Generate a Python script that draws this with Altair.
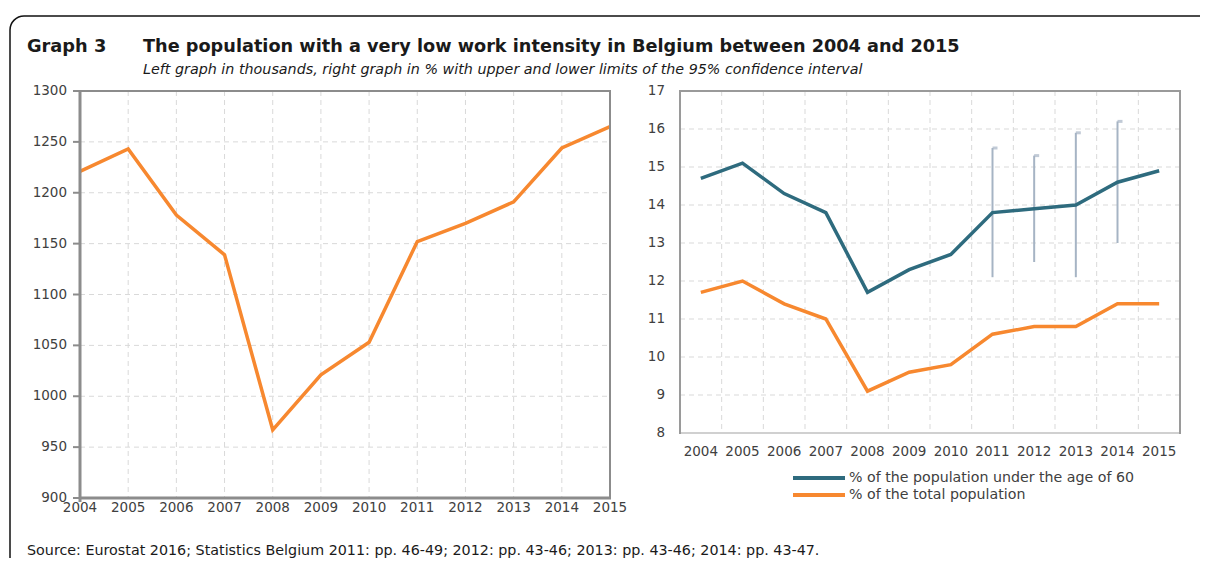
import altair as alt
import pandas as pd

FONT = "DejaVu Sans"
TXT = "#404040"

# ---------------- data ----------------
years = [2004, 2005, 2006, 2007, 2008, 2009, 2010, 2011, 2012, 2013, 2014, 2015]
left_thousands = [1221, 1243, 1178, 1139, 967, 1021, 1053, 1152, 1170, 1191, 1244, 1265]

series_names = ["% of the population under the age of 60", "% of the total population"]
series_colors = ["#2E6B7E", "#F7882F"]
pct_under60 = [14.7, 15.1, 14.3, 13.8, 11.7, 12.3, 12.7, 13.8, 13.9, 14.0, 14.6, 14.9]
pct_total = [11.7, 12.0, 11.4, 11.0, 9.1, 9.6, 9.8, 10.6, 10.8, 10.8, 11.4, 11.4]

ci_years = [2011, 2012, 2013, 2014]
ci_low = [12.1, 12.5, 12.1, 13.0]
ci_high = [15.5, 15.3, 15.9, 16.2]

left_y_ticks = [900, 950, 1000, 1050, 1100, 1150, 1200, 1250, 1300]
right_y_ticks = [8, 9, 10, 11, 12, 13, 14, 15, 16, 17]

label_graph = "Graph 3"
title_text = "The population with a very low work intensity in Belgium between 2004 and 2015"
subtitle_text = ("Left graph in thousands, right graph in % with upper and lower limits "
                 "of the 95% confidence interval")
source_text = ("Source: Eurostat 2016; Statistics Belgium 2011: pp. 46-49; 2012: pp. 43-46; "
               "2013: pp. 43-46; 2014: pp. 43-47.")

# ---------------- tables ----------------
ystr = [str(y) for y in years]
left_df = pd.DataFrame({"year": years, "value": left_thousands})
right_df = pd.DataFrame({
    "year": ystr + ystr,
    "series": [series_names[0]] * len(years) + [series_names[1]] * len(years),
    "value": pct_under60 + pct_total,
})
ci_df = pd.DataFrame({"year": [str(y) for y in ci_years], "low": ci_low, "high": ci_high})
legend_df = pd.DataFrame({"series": series_names})

# ---------------- geometry (plot-area pixels) ----------------
LW, LH = 530, 407                 # left panel
RX0, RX1, RH = 600, 1100, 342     # right panel

LXs = alt.Scale(domain=[2004, 2015], range=[0, LW], nice=False, zero=False)
LYs = alt.Scale(domain=[900, 1300], range=[LH, 0], nice=False, zero=False)
RXs = alt.Scale(type="band", domain=ystr, range=[RX0, RX1], paddingInner=0, paddingOuter=0)
RYs = alt.Scale(domain=[8, 17], range=[RH, 0], nice=False, zero=False)
COLs = alt.Scale(domain=series_names, range=series_colors)

GRID = "#d9d9d9"
BORDER = "#8c8c8c"
one = pd.DataFrame({"k": [0]})
TICKFS = 13.5

# ---------------- left panel ----------------
l_hgrid = alt.Chart(pd.DataFrame({"v": left_y_ticks[1:-1]})).mark_rule(
    color=GRID, strokeWidth=1, strokeDash=[5, 4]
).encode(y=alt.Y("v:Q", scale=LYs, axis=None), x=alt.value(0), x2=alt.value(LW))

l_vgrid = alt.Chart(pd.DataFrame({"yr": years[1:-1]})).mark_rule(
    color=GRID, strokeWidth=1, strokeDash=[5, 4]
).encode(x=alt.X("yr:Q", scale=LXs, axis=None), y=alt.value(0), y2=alt.value(LH))

l_box = alt.Chart(one).mark_rect(fill="transparent", stroke=BORDER, strokeWidth=2).encode(
    x=alt.value(0), x2=alt.value(LW), y=alt.value(0), y2=alt.value(LH))
l_left_edge = alt.Chart(one).mark_rule(color=BORDER, strokeWidth=3).encode(
    x=alt.value(0), y=alt.value(-1), y2=alt.value(LH + 4))
l_bottom_edge = alt.Chart(one).mark_rule(color=BORDER, strokeWidth=3).encode(
    x=alt.value(-1), x2=alt.value(LW + 1), y=alt.value(LH))

l_yticks = alt.Chart(pd.DataFrame({"v": left_y_ticks})).mark_rule(
    color=BORDER, strokeWidth=2
).encode(y=alt.Y("v:Q", scale=LYs, axis=None), x=alt.value(-7), x2=alt.value(0))
l_ylabels = alt.Chart(pd.DataFrame({"v": left_y_ticks})).mark_text(
    align="right", baseline="middle", font=FONT, fontSize=TICKFS, color=TXT
).encode(y=alt.Y("v:Q", scale=LYs, axis=None), x=alt.value(-13), text="v:Q")
l_xlabels = alt.Chart(pd.DataFrame({"yr": years})).mark_text(
    align="center", baseline="middle", font=FONT, fontSize=TICKFS, color=TXT
).encode(x=alt.X("yr:Q", scale=LXs, axis=None), y=alt.value(LH + 10), text="yr:N")

l_line = alt.Chart(left_df).mark_line(color="#F7882F", strokeWidth=3.5).encode(
    x=alt.X("year:Q", scale=LXs, axis=None),
    y=alt.Y("value:Q", scale=LYs, axis=None),
)

left = alt.layer(l_hgrid, l_vgrid, l_line, l_box, l_left_edge, l_bottom_edge,
                 l_yticks, l_ylabels, l_xlabels)

# ---------------- right panel ----------------
r_hgrid = alt.Chart(pd.DataFrame({"v": right_y_ticks[1:-1]})).mark_rule(
    color=GRID, strokeWidth=1, strokeDash=[5, 4]
).encode(y=alt.Y("v:Q", scale=RYs, axis=None), x=alt.value(RX0), x2=alt.value(RX1))

r_vgrid = alt.Chart(pd.DataFrame({"yr": ystr[1:]})).mark_rule(
    color=GRID, strokeWidth=1, strokeDash=[5, 4]
).encode(x=alt.X("yr:O", scale=RXs, bandPosition=0, axis=None),
         y=alt.value(0), y2=alt.value(RH))

r_box = alt.Chart(one).mark_rect(fill="transparent", stroke="#9a9a9a", strokeWidth=2).encode(
    x=alt.value(RX0), x2=alt.value(RX1), y=alt.value(0), y2=alt.value(RH))
r_bottom = alt.Chart(one).mark_rule(color="#d0d0d0", strokeWidth=2).encode(
    x=alt.value(RX0 + 1), x2=alt.value(RX1 - 1), y=alt.value(RH))

r_err = alt.Chart(ci_df).mark_rule(color="#A6B4C4", strokeWidth=2).encode(
    x=alt.X("year:O", scale=RXs, axis=None),
    y=alt.Y("low:Q", scale=RYs, axis=None), y2="high:Q")
r_cap = alt.Chart(ci_df).mark_tick(color="#A6B4C4", size=5, thickness=3, xOffset=2.5).encode(
    x=alt.X("year:O", scale=RXs, axis=None),
    y=alt.Y("high:Q", scale=RYs, axis=None))

r_lines = alt.Chart(right_df).mark_line(strokeWidth=3.5).encode(
    x=alt.X("year:O", scale=RXs, axis=None),
    y=alt.Y("value:Q", scale=RYs, axis=None),
    color=alt.Color("series:N", scale=COLs, legend=None),
    order=alt.Order("year:O"),
)

r_ylabels = alt.Chart(pd.DataFrame({"v": right_y_ticks})).mark_text(
    align="right", baseline="middle", font=FONT, fontSize=TICKFS, color=TXT
).encode(y=alt.Y("v:Q", scale=RYs, axis=None), x=alt.value(RX0 - 15), text="v:Q")
r_xlabels = alt.Chart(pd.DataFrame({"yr": ystr})).mark_text(
    align="center", baseline="middle", font=FONT, fontSize=TICKFS, color=TXT
).encode(x=alt.X("yr:O", scale=RXs, axis=None), y=alt.value(RH + 19), text="yr:N")

right = alt.layer(r_hgrid, r_vgrid, r_box, r_bottom, r_err, r_cap, r_lines,
                  r_ylabels, r_xlabels)

# ---------------- legend (below right panel) ----------------
LEG_Y = alt.Scale(type="point", domain=series_names, range=[387, 404], padding=0)
leg_sym = alt.Chart(legend_df).mark_rule(strokeWidth=4).encode(
    y=alt.Y("series:N", scale=LEG_Y, axis=None),
    x=alt.value(713), x2=alt.value(765),
    color=alt.Color("series:N", scale=COLs, legend=None))
leg_txt = alt.Chart(legend_df).mark_text(
    align="left", baseline="middle", font=FONT, fontSize=14.2, color=TXT
).encode(y=alt.Y("series:N", scale=LEG_Y, axis=None), x=alt.value(769), text="series:N")
legend = alt.layer(leg_sym, leg_txt)

# ---------------- frame & texts ----------------
frame = alt.Chart(one).mark_rect(
    fill="transparent", stroke="#111111", strokeWidth=1.5, cornerRadius=14
).encode(x=alt.value(-70), x2=alt.value(1300), y=alt.value(-75), y2=alt.value(700))

t_graph = alt.Chart(pd.DataFrame({"t": [label_graph]})).mark_text(
    align="left", baseline="middle", font=FONT, fontSize=17.8, fontWeight="bold", color="#1a1a1a"
).encode(x=alt.value(-53), y=alt.value(-44), text="t:N")
t_title = alt.Chart(pd.DataFrame({"t": [title_text]})).mark_text(
    align="left", baseline="middle", font=FONT, fontSize=17.7, fontWeight="bold", color="#1a1a1a"
).encode(x=alt.value(63), y=alt.value(-44), text="t:N")
t_sub = alt.Chart(pd.DataFrame({"t": [subtitle_text]})).mark_text(
    align="left", baseline="middle", font=FONT, fontSize=14.3, fontStyle="italic", color="#1a1a1a"
).encode(x=alt.value(63), y=alt.value(-21), text="t:N")
t_src = alt.Chart(pd.DataFrame({"t": [source_text]})).mark_text(
    align="left", baseline="middle", font=FONT, fontSize=14.3, color="#1a1a1a"
).encode(x=alt.value(-53), y=alt.value(460), text="t:N")
texts = alt.layer(frame, t_graph, t_title, t_sub, t_src)

chart = alt.layer(texts, left, right, legend).resolve_scale(
    x="independent", y="independent", color="independent"
).properties(
    width=1100, height=LH,
    padding={"left": 72, "top": 83, "right": 20, "bottom": 60},
    autosize=alt.AutoSizeParams(type="none"),
    background="white",
).configure_view(stroke=None)

chart.save("out.html", embed_options={"renderer": "svg", "actions": False})
